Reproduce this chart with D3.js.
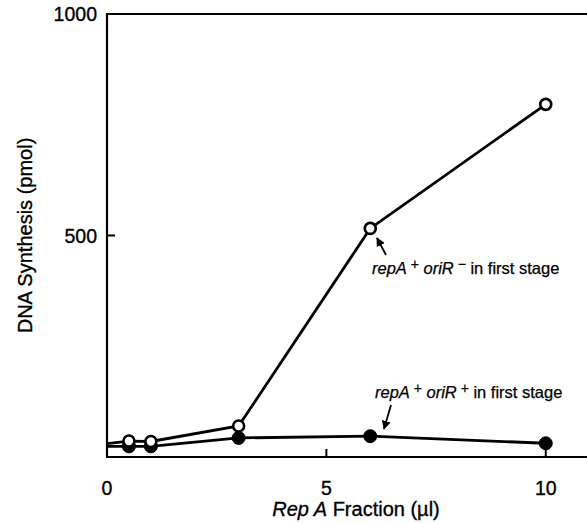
<!DOCTYPE html>
<html lang="en">
<head>
<meta charset="utf-8">
<script src="https://cdn.jsdelivr.net/npm/d3@7"></script>
<style>
  body { margin: 0; background: #fff; }
  text { font-family: "Liberation Sans", Arial, sans-serif; fill: #000; stroke: #000; stroke-width: 0.35; }
</style>
</head>
<body>
<div id="chart"></div>
<script>
const w = 587, h = 523;

// values (x = 0 only starts the line, no marker there)
const fractionUl = [0, 0.5, 1, 3, 6, 10];
const oriMinus = [30, 36, 35, 70, 516, 796];   // open circles
const oriPlus = [24, 24, 24, 43, 47, 31];      // filled circles
const xTicks = [0, 5, 10];
const yTicks = [500, 1000];

const margin = { left: 107, top: 14, right: 0, bottom: 66 };

const x = d3.scaleLinear().domain([0, 10.94]).range([margin.left, w]);
const y = d3.scaleLinear().domain([0, 1000]).range([h - margin.bottom, margin.top]);

const svg = d3.select("#chart").append("svg")
  .attr("width", w).attr("height", h);

// frame: left, bottom and top lines
svg.append("path")
  .attr("d", `M${w},${y(1000)}H${x(0)}V${y(0)}H${w}`)
  .attr("fill", "none").attr("stroke", "#000").attr("stroke-width", 2.2);

// inward ticks
svg.selectAll(".xt").data([5, 10]).enter().append("line")
  .attr("x1", d => x(d)).attr("x2", d => x(d))
  .attr("y1", y(0)).attr("y2", y(0) - 8)
  .attr("stroke", "#000").attr("stroke-width", 2);
svg.selectAll(".yt").data([500]).enter().append("line")
  .attr("x1", x(0)).attr("x2", x(0) + 8)
  .attr("y1", d => y(d)).attr("y2", d => y(d))
  .attr("stroke", "#000").attr("stroke-width", 2);

// tick labels
svg.selectAll(".xl").data(xTicks).enter().append("text")
  .attr("x", d => x(d)).attr("y", y(0) + 38)
  .attr("text-anchor", "middle").attr("font-size", 19.5)
  .text(d => d);
svg.selectAll(".yl").data(yTicks).enter().append("text")
  .attr("x", x(0) - 10).attr("y", d => y(d) + 7)
  .attr("text-anchor", "end").attr("font-size", 19.5)
  .text(d => d);

// axis titles
const xt = svg.append("text")
  .attr("x", 356).attr("y", 516)
  .attr("text-anchor", "middle").attr("font-size", 20);
xt.append("tspan").attr("font-style", "italic").text("Rep A");
xt.append("tspan").text(" Fraction (\u00b5l)");

svg.append("text")
  .attr("transform", `translate(32,${y(500)}) rotate(-90)`)
  .attr("text-anchor", "middle").attr("font-size", 20)
  .text("DNA Synthesis (pmol)");

const line = d3.line().x(d => x(d[0])).y(d => y(d[1]));

function drawSeries(vals, filled) {
  const pts = fractionUl.map((f, i) => [f, vals[i]]);
  svg.append("path").datum(pts)
    .attr("d", line)
    .attr("fill", "none").attr("stroke", "#000").attr("stroke-width", 2.8);
  svg.selectAll(null).data(pts.filter(p => p[0] > 0)).enter().append("circle")
    .attr("cx", d => x(d[0])).attr("cy", d => y(d[1]))
    .attr("r", filled ? 6.5 : 5.5)
    .attr("fill", filled ? "#000" : "#fff")
    .attr("stroke", "#000").attr("stroke-width", filled ? 1 : 2.6);
}
drawSeries(oriPlus, true);
drawSeries(oriMinus, false);

// annotations
svg.append("defs").append("marker")
  .attr("id", "ah").attr("viewBox", "0 0 10 10")
  .attr("refX", 9).attr("refY", 5)
  .attr("markerWidth", 5).attr("markerHeight", 5)
  .attr("orient", "auto")
  .append("path").attr("d", "M0,0L10,5L0,10z").attr("fill", "#000");

function note(tx, ty, ax1, ay1, ax2, ay2, sign) {
  svg.append("line")
    .attr("x1", ax1).attr("y1", ay1).attr("x2", ax2).attr("y2", ay2)
    .attr("stroke", "#000").attr("stroke-width", 1.8)
    .attr("marker-end", "url(#ah)");
  const t = svg.append("text").attr("x", tx).attr("y", ty)
    .attr("font-size", 16.5).style("stroke-width", 0.25);
  t.append("tspan").attr("font-style", "italic").text("repA");
  t.append("tspan").attr("dy", -5).attr("font-size", 14).text(" +");
  t.append("tspan").attr("dy", 5).attr("font-style", "italic").text(" oriR");
  t.append("tspan").attr("dy", -5).attr("font-size", 14).text(" " + sign);
  t.append("tspan").attr("dy", 5).text("  in first stage");
}
note(372, 274, 386, 255, 377, 238, "\u2212");
note(375, 398, 391, 405, 384, 429, "+");
</script>
</body>
</html>
